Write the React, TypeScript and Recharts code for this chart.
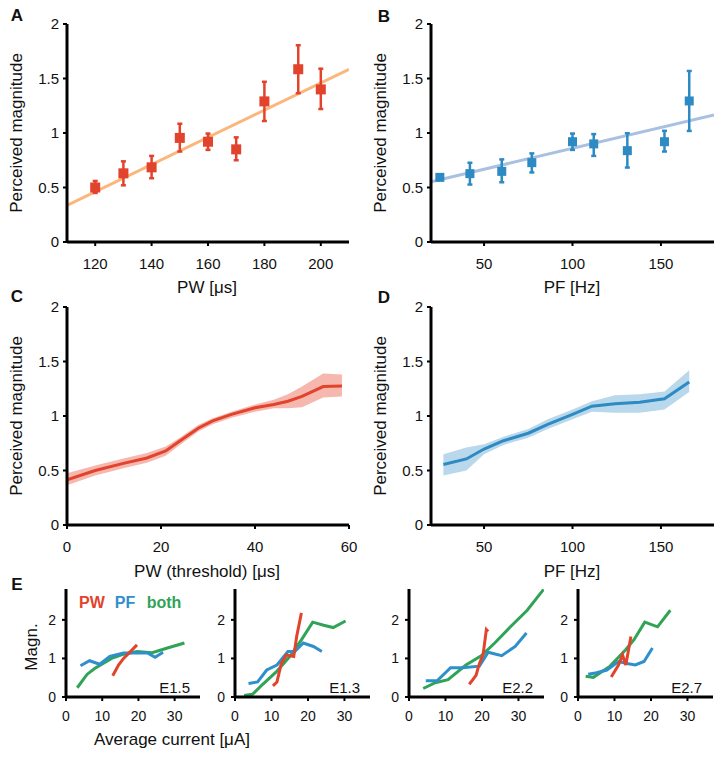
import React from 'react';
import { ComposedChart, Line, Scatter, ErrorBar, XAxis, YAxis, Area } from 'recharts';

const FONT = '"Liberation Sans", Arial, Helvetica, sans-serif';

const RED = '#e2432c';
const ORANGE = '#fbb77b';
const BLUE = '#2d8ac3';
const LIGHTBLUE = '#a9c0e0';
const GREEN = '#2fa456';
const EBLUE = '#2f8fcb';

// ---------- Panel A ----------
const aPW = [120, 130, 140, 150, 160, 170, 180, 192, 200];
const aMag = [0.5, 0.63, 0.685, 0.955, 0.92, 0.85, 1.29, 1.585, 1.4];
const aErrLow = [0.05, 0.11, 0.1, 0.125, 0.075, 0.1, 0.18, 0.22, 0.18];
const aErrHigh = [0.06, 0.11, 0.105, 0.13, 0.075, 0.11, 0.18, 0.22, 0.19];
const aFitX = [110, 210];
const aFitY = [0.336, 1.584];
const aTicksX = [120, 140, 160, 180, 200];

// ---------- Panel B ----------
const bPF = [25, 42, 60, 77, 100, 112, 131, 152, 166];
const bMag = [0.593, 0.627, 0.648, 0.728, 0.92, 0.9, 0.838, 0.92, 1.294];
const bErrLow = [0.02, 0.1, 0.1, 0.09, 0.075, 0.11, 0.155, 0.09, 0.275];
const bErrHigh = [0.02, 0.1, 0.11, 0.085, 0.075, 0.09, 0.16, 0.1, 0.275];
const bFitX = [20, 180];
const bFitY = [0.553, 1.165];
const bTicksX = [50, 100, 150];

// ---------- Panel C ----------
const cPW = [0, 6, 12, 17, 21, 24, 28, 31, 35, 40, 44, 47, 50, 54.5, 58.5];
const cMag = [0.415, 0.5, 0.565, 0.615, 0.68, 0.77, 0.89, 0.955, 1.015, 1.075, 1.105, 1.135, 1.18, 1.27, 1.275];
const cLow = [0.365, 0.455, 0.52, 0.57, 0.635, 0.735, 0.86, 0.925, 0.985, 1.04, 1.07, 1.07, 1.08, 1.17, 1.18];
const cHigh = [0.475, 0.545, 0.61, 0.66, 0.72, 0.8, 0.92, 0.98, 1.04, 1.105, 1.15, 1.2, 1.27, 1.39, 1.38];
const cTicksX = [0, 20, 40, 60];

// ---------- Panel D ----------
const dPF = [27, 40, 50, 61, 75, 86, 100, 111, 124, 138, 152, 166];
const dMag = [0.555, 0.606, 0.697, 0.773, 0.842, 0.924, 1.015, 1.09, 1.112, 1.127, 1.158, 1.312];
const dLow = [0.455, 0.5, 0.65, 0.735, 0.8, 0.88, 0.97, 1.04, 1.03, 1.03, 1.06, 1.22];
const dHigh = [0.65, 0.71, 0.74, 0.81, 0.88, 0.97, 1.06, 1.135, 1.19, 1.2, 1.225, 1.42];

const magTicks = [0, 0.5, 1, 1.5, 2];

// ---------- Panel E (x: average current µA, y: magnitude) ----------
const e15PW = [[12.9, 0.55], [14.5, 0.83], [15.9, 1.0], [17.8, 1.18], [19.6, 1.35]];
const e15PF = [[4, 0.81], [6.5, 0.94], [9.3, 0.85], [12.1, 1.05], [15.9, 1.14], [19.6, 1.14], [22.4, 1.15], [24.6, 1.03], [26.8, 1.16]];
const e15Both = [[3.1, 0.24], [5.8, 0.585], [7.9, 0.74], [12.6, 1.0], [15.9, 1.11], [19.6, 1.18], [23.8, 1.15], [28, 1.27], [32.7, 1.4]];

const e13PW = [[10.4, 0.29], [11.5, 0.39], [12.7, 0.87], [14.1, 1.09], [16.1, 1.05], [16.9, 1.57], [18.2, 2.18]];
const e13PF = [[3.7, 0.35], [6.2, 0.39], [8.7, 0.7], [11.5, 0.83], [14.5, 1.18], [16.4, 1.18], [18.7, 1.4], [21.5, 1.31], [23.8, 1.18]];
const e13Both = [[2.5, 0.04], [4.8, 0.07], [7.6, 0.33], [11.3, 0.65], [15, 1.05], [18.2, 1.48], [21.3, 1.94], [24.3, 1.86], [26.9, 1.8], [30.3, 1.97]];

const e22PW = [[16.5, 0.33], [17.5, 0.45], [18.4, 0.57], [19.3, 0.87], [20.3, 1.09], [21.2, 1.75], [21.7, 1.7]];
const e22PF = [[4.6, 0.42], [7.7, 0.42], [11.4, 0.76], [14.7, 0.76], [19.3, 0.8], [21.7, 1.16], [25.4, 1.07], [29.1, 1.31], [32.2, 1.66]];
const e22Both = [[3.9, 0.22], [7.2, 0.37], [10.7, 0.45], [15.6, 0.83], [19.8, 1.07], [23.5, 1.4], [27.8, 1.82], [32.4, 2.25], [36.9, 2.79]];

const e27PW = [[9.1, 0.52], [11.1, 0.83], [12.2, 1.09], [13.1, 0.83], [13.7, 1.14], [14.5, 1.57]];
const e27PF = [[2.8, 0.59], [5.1, 0.63], [7.9, 0.7], [11.1, 0.92], [13.4, 0.87], [15.7, 0.83], [18.1, 0.92], [20.4, 1.27]];
const e27Both = [[2.1, 0.54], [4.2, 0.51], [8.8, 0.8], [13, 1.22], [15.3, 1.48], [18.3, 1.94], [21.8, 1.82], [25.3, 2.25]];

const eTicksX = [0, 10, 20, 30];
const eTicksY = [0, 1, 2];
const eNames = ['E1.5', 'E1.3', 'E2.2', 'E2.7'];

const toXY = (pairs: number[][]) => pairs.map(([x, y]) => ({ x, y }));

const tableA = aPW.map((x, i) => ({ x, y: aMag[i], err: [aErrLow[i], aErrHigh[i]] }));
const fitA = aFitX.map((x, i) => ({ x, y: aFitY[i] }));
const tableB = bPF.map((x, i) => ({ x, y: bMag[i], err: [bErrLow[i], bErrHigh[i]] }));
const fitB = bFitX.map((x, i) => ({ x, y: bFitY[i] }));
const tableC = cPW.map((x, i) => ({ x, mag: cMag[i], band: [cLow[i], cHigh[i]] }));
const tableD = dPF.map((x, i) => ({ x, mag: dMag[i], band: [dLow[i], dHigh[i]] }));

const eSets = [
  [e15PW, e15PF, e15Both],
  [e13PW, e13PF, e13Both],
  [e22PW, e22PF, e22Both],
  [e27PW, e27PF, e27Both],
];

type Pos = { left: number; top: number; w: number; h: number; mt: number; mr: number; yw: number; xh: number };

function axisProps(fs: number, margin: number) {
  return {
    axisLine: { stroke: '#000', strokeWidth: 3 },
    tickLine: { stroke: '#000', strokeWidth: 2 },
    tickSize: 4,
    tickMargin: margin,
    tick: { fill: '#111', fontSize: fs, fontFamily: FONT },
    interval: 0 as const,
  };
}

function Frame(props: {
  pos: Pos; data?: any[]; xDomain: number[]; xTicks: number[]; yDomain: number[]; yTicks: number[];
  fs: number; xm: number; ym: number; children: React.ReactNode;
}) {
  const { pos, data, xDomain, xTicks, yDomain, yTicks, fs, xm, ym, children } = props;
  return (
    <div style={{ position: 'absolute', left: pos.left, top: pos.top }}>
      <ComposedChart width={pos.w} height={pos.h} data={data} margin={{ top: pos.mt, right: pos.mr, left: 0, bottom: 0 }}>
        <XAxis type="number" dataKey="x" domain={xDomain} ticks={xTicks} allowDataOverflow height={pos.xh} {...axisProps(fs, xm)} />
        <YAxis type="number" domain={yDomain} ticks={yTicks} allowDataOverflow width={pos.yw} {...axisProps(fs, ym)} />
        {children}
      </ComposedChart>
    </div>
  );
}

function Txt(p: { x: number; y: number; size: number; bold?: boolean; color?: string; rotate?: boolean; anchor?: 'middle' | 'end'; children: React.ReactNode }) {
  const tx = p.anchor === 'end' ? '-100%' : '-50%';
  return (
    <div
      style={{
        position: 'absolute', left: p.x, top: p.y, fontFamily: FONT, fontSize: p.size, lineHeight: 1,
        fontWeight: p.bold ? 'bold' : 'normal', color: p.color || '#111', whiteSpace: 'nowrap',
        transform: `translate(${tx}, -50%)${p.rotate ? ' rotate(-90deg)' : ''}`,
      }}
    >
      {p.children}
    </div>
  );
}

const squareShape = (color: string, s: number) => (p: any) => (
  <rect x={p.cx - s / 2} y={p.cy - s / 2} width={s} height={s} fill={color} />
);

const posA: Pos = { left: 0, top: 0, w: 360, h: 290, mt: 24, mr: 11, yw: 67, xh: 48 };
const posB: Pos = { left: 362, top: 0, w: 362, h: 290, mt: 24, mr: 10, yw: 69, xh: 48 };
const posC: Pos = { left: 0, top: 283, w: 360, h: 290, mt: 24, mr: 11, yw: 67, xh: 48 };
const posD: Pos = { left: 362, top: 283, w: 362, h: 290, mt: 24, mr: 10, yw: 69, xh: 48 };
const posE: Pos[] = [
  { left: 0, top: 575, w: 210, h: 182, mt: 14, mr: 10, yw: 66, xh: 60 },
  { left: 190, top: 575, w: 190, h: 182, mt: 14, mr: 10, yw: 45, xh: 60 },
  { left: 364, top: 575, w: 190, h: 182, mt: 14, mr: 10, yw: 45, xh: 60 },
  { left: 533, top: 575, w: 190, h: 182, mt: 14, mr: 10, yw: 45, xh: 60 },
];
const eLabelRight = [190, 360, 533, 702];

export default function App() {
  return (
    <div style={{ position: 'absolute', left: 0, top: 0, width: 724, height: 757, background: '#fff', overflow: 'hidden' }}>
      {/* A */}
      <Frame pos={posA} xDomain={[110, 210]} xTicks={aTicksX} yDomain={[0, 2]} yTicks={magTicks} fs={15} xm={12} ym={4}>
        <Line data={fitA} dataKey="y" stroke={ORANGE} strokeWidth={3} dot={false} isAnimationActive={false} />
        <Scatter data={tableA} dataKey="y" fill={RED} shape={squareShape(RED, 10)} isAnimationActive={false}>
          <ErrorBar dataKey="err" direction="y" width={2.5} stroke={RED} strokeWidth={2.5} />
        </Scatter>
      </Frame>
      {/* B */}
      <Frame pos={posB} xDomain={[20, 180]} xTicks={bTicksX} yDomain={[0, 2]} yTicks={magTicks} fs={15} xm={12} ym={4}>
        <Line data={fitB} dataKey="y" stroke={LIGHTBLUE} strokeWidth={3} dot={false} isAnimationActive={false} />
        <Scatter data={tableB} dataKey="y" fill={BLUE} shape={squareShape(BLUE, 9)} isAnimationActive={false}>
          <ErrorBar dataKey="err" direction="y" width={2.5} stroke={BLUE} strokeWidth={2.5} />
        </Scatter>
      </Frame>
      {/* C */}
      <Frame pos={posC} data={tableC} xDomain={[0, 60]} xTicks={cTicksX} yDomain={[0, 2]} yTicks={magTicks} fs={15} xm={12} ym={4}>
        <Area type="linear" dataKey="band" stroke="none" fill="#f6b8ae" fillOpacity={1} isAnimationActive={false} />
        <Line type="linear" dataKey="mag" stroke={RED} strokeWidth={3} dot={false} isAnimationActive={false} />
      </Frame>
      {/* D */}
      <Frame pos={posD} data={tableD} xDomain={[20, 180]} xTicks={bTicksX} yDomain={[0, 2]} yTicks={magTicks} fs={15} xm={12} ym={4}>
        <Area type="linear" dataKey="band" stroke="none" fill="#b9d8ec" fillOpacity={1} isAnimationActive={false} />
        <Line type="linear" dataKey="mag" stroke={BLUE} strokeWidth={3} dot={false} isAnimationActive={false} />
      </Frame>
      {/* E */}
      {eSets.map((set, k) => (
        <Frame key={k} pos={posE[k]} xDomain={[0, 37]} xTicks={eTicksX} yDomain={[0, 2.8]} yTicks={eTicksY} fs={14} xm={10} ym={6}>
          <Line data={toXY(set[2])} dataKey="y" stroke={GREEN} strokeWidth={3} dot={false} isAnimationActive={false} />
          <Line data={toXY(set[1])} dataKey="y" stroke={EBLUE} strokeWidth={3} dot={false} isAnimationActive={false} />
          <Line data={toXY(set[0])} dataKey="y" stroke={RED} strokeWidth={3} dot={false} isAnimationActive={false} />
        </Frame>
      ))}

      {/* panel letters */}
      <Txt x={17} y={15} size={17} bold>A</Txt>
      <Txt x={384} y={16} size={17} bold>B</Txt>
      <Txt x={17} y={296} size={17} bold>C</Txt>
      <Txt x={384} y={297} size={17} bold>D</Txt>
      <Txt x={17} y={584} size={17} bold>E</Txt>

      {/* axis titles */}
      <Txt x={16} y={133} size={17} rotate>Perceived magnitude</Txt>
      <Txt x={380} y={133} size={17} rotate>Perceived magnitude</Txt>
      <Txt x={16} y={416} size={17} rotate>Perceived magnitude</Txt>
      <Txt x={380} y={416} size={17} rotate>Perceived magnitude</Txt>
      <Txt x={207} y={287} size={17}>PW [μs]</Txt>
      <Txt x={572} y={287} size={17}>PF [Hz]</Txt>
      <Txt x={207} y={571} size={17}>PW (threshold) [μs]</Txt>
      <Txt x={572} y={571} size={17}>PF [Hz]</Txt>
      <Txt x={31} y={647} size={17} rotate>Magn.</Txt>
      <Txt x={172} y={739} size={17}>Average current [μA]</Txt>

      {/* E legend */}
      <Txt x={92} y={603} size={16} bold color={RED}>PW</Txt>
      <Txt x={125} y={603} size={16} bold color={EBLUE}>PF</Txt>
      <Txt x={164} y={603} size={16} bold color={GREEN}>both</Txt>
      {eNames.map((n, k) => (
        <Txt key={n} x={eLabelRight[k]} y={687} size={15} anchor="end">{n}</Txt>
      ))}
    </div>
  );
}
